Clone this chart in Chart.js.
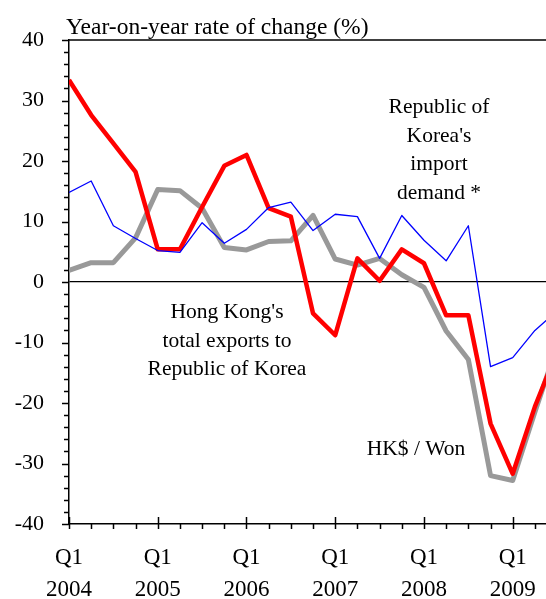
<!DOCTYPE html>
<html>
<head>
<meta charset="utf-8">
<script src="https://cdn.jsdelivr.net/npm/chart.js@4"></script>
<style>
  html, body { margin: 0; padding: 0; background: #fff; overflow: hidden; }
  canvas { display: block; }
</style>
</head>
<body>
<canvas id="myChart" width="546" height="599"></canvas>
<script>
// quarterly data, 2004 Q1 .. 2009 Q3 (last point runs off the right edge)
const years = ['2004', '2005', '2006', '2007', '2008', '2009'];
const hkExports = [33.4, 27.6, 22.9, 18.2, 5.4, 5.4, 12.4, 19.2, 21.0, 12.2, 10.8, -5.2, -8.8, 3.9, 0.2, 5.4, 3.1, -5.5, -5.5, -23.4, -31.7, -20.6, -11.5];
const koreaImports = [14.8, 16.7, 9.3, 7.2, 5.2, 4.9, 9.8, 6.4, 8.7, 12.3, 13.2, 8.5, 11.2, 10.8, 3.9, 11.0, 6.9, 3.5, 9.3, -14.0, -12.5, -8.0, -4.8];
const hkdWon = [1.9, 3.2, 3.2, 7.3, 15.3, 15.1, 12.2, 5.7, 5.3, 6.7, 6.8, 11.0, 3.8, 2.8, 3.9, 1.2, -0.9, -8.1, -12.8, -32.0, -32.8, -21.5, -10.5];

const FONT = '"Liberation Serif", "Times New Roman", serif';

function pts(arr){
  return arr.map((v, i) => ({x: i, y: v}));
}

// axis ticks, title and the text labels inside the plot
const extras = {
  id: 'extras',
  afterDraw(chart){
    const c = chart.ctx, a = chart.chartArea;
    const xs = chart.scales.x, ys = chart.scales.y;
    c.save();
    c.strokeStyle = '#000';
    c.lineWidth = 1.5;
    // top frame
    c.beginPath();
    c.moveTo(a.left, a.top);
    c.lineTo(a.right, a.top);
    c.stroke();
    // y ticks
    for (let v = -40; v <= 40; v += 2) {
      const y = Math.round(ys.getPixelForValue(v)) + 0.5;
      const len = v % 10 === 0 ? 7 : 5;
      c.beginPath();
      c.moveTo(a.left - len, y);
      c.lineTo(a.left, y);
      c.stroke();
    }
    // x ticks
    for (let q = 0; q <= 21; q++) {
      const x = Math.round(xs.getPixelForValue(q)) + 0.5;
      c.beginPath();
      if (q % 4 === 0) {
        c.moveTo(x, a.bottom - 7);
        c.lineTo(x, a.bottom + 5);
      } else {
        c.moveTo(x, a.bottom);
        c.lineTo(x, a.bottom + 5);
      }
      c.stroke();
    }
    c.fillStyle = '#000';
    c.font = '23.5px ' + FONT;
    c.textAlign = 'left';
    c.textBaseline = 'alphabetic';
    c.fillText('Year-on-year rate of change (%)', 66, 34);

    c.font = '21.5px ' + FONT;
    c.textAlign = 'center';
    const block = (lines, x, y0, step) => {
      lines.forEach((t, i) => c.fillText(t, x, y0 + i * step));
    };
    block(['Republic of', "Korea's", 'import', 'demand *'], 439, 113, 28.5);
    block(["Hong Kong's", 'total exports to', 'Republic of Korea'], 227, 318, 28.5);
    c.fillText('HK$ / Won', 416, 455);
    c.restore();
  }
};

const ctx = document.getElementById('myChart').getContext('2d');

const data = {
  datasets: [
    {
      label: "Republic of Korea's import demand",
      data: pts(koreaImports),
      borderColor: '#0000ff',
      borderWidth: 1.3,
    },
    {
      label: "Hong Kong's total exports to Republic of Korea",
      data: pts(hkExports),
      borderColor: '#ff0000',
      borderWidth: 4.5,
    },
    {
      label: 'HK$ / Won',
      data: pts(hkdWon),
      borderColor: '#999999',
      borderWidth: 5,
    }
  ]
};

const config = {
  type: 'line',
  data: data,
  plugins: [extras],
  options: {
    responsive: false,
    animation: false,
    layout: { padding: { top: 40, right: 0, left: 0, bottom: 0 } },
    elements: {
      point: { radius: 0 },
      line: { tension: 0, borderJoinStyle: 'round', borderCapStyle: 'butt', fill: false }
    },
    plugins: {
      legend: { display: false },
      tooltip: { enabled: false }
    },
    scales: {
      x: {
        type: 'linear',
        min: 0,
        max: 21.5,
        afterFit(s){
          s.height = 75;
          s.paddingLeft = 0;
          s.paddingRight = 0;
        },
        grid: { display: false },
        border: { display: true, color: '#000', width: 1.5 },
        ticks: {
          stepSize: 1,
          autoSkip: false,
          maxRotation: 0,
          padding: 10,
          color: '#000',
          font: { family: FONT, size: 23, lineHeight: 1.39 },
          callback: function(value){
            if (value % 4 === 0) return ['Q1', years[value / 4]];
            return '';
          }
        }
      },
      y: {
        min: -40,
        max: 40,
        afterFit(s){
          s.width = 69;
          s.paddingTop = 0;
          s.paddingBottom = 0;
        },
        grid: {
          drawTicks: false,
          color: (c) => c.tick && c.tick.value === 0 ? '#000' : 'rgba(0,0,0,0)',
          lineWidth: 1.2
        },
        border: { display: true, color: '#000', width: 1.5 },
        ticks: {
          stepSize: 10,
          padding: 25,
          color: '#000',
          font: { family: FONT, size: 22 },
          callback: function(value){ return value; }
        }
      }
    }
  }
};

const mychart = new Chart(ctx, config);
</script>
</body>
</html>
